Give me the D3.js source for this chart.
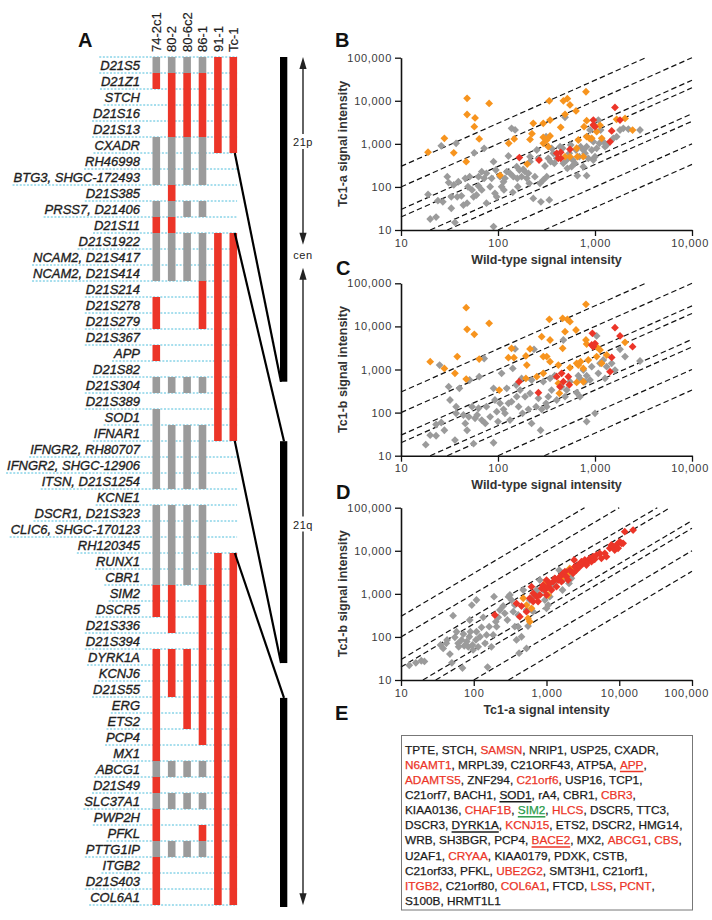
<!DOCTYPE html>
<html><head><meta charset="utf-8">
<script src="https://cdn.jsdelivr.net/npm/d3@7"></script>
<style>
body{margin:0;background:#fff}
svg text{font-family:"Liberation Sans",Arial,Helvetica,sans-serif}
</style>
</head><body>
<svg id="c" width="712" height="920"></svg>
<script>
// ---------------- DATA ----------------
const markers = ["D21S5","D21Z1","STCH","D21S16","D21S13","CXADR","RH46998","BTG3, SHGC-172493","D21S385","PRSS7, D21406","D21S11","D21S1922","NCAM2, D21S417","NCAM2, D21S414","D21S214","D21S278","D21S279","D21S367","APP","D21S82","D21S304","D21S389","SOD1","IFNAR1","IFNGR2, RH80707","IFNGR2, SHGC-12906","ITSN, D21S1254","KCNE1","DSCR1, D21S323","CLIC6, SHGC-170123","RH120345","RUNX1","CBR1","SIM2","DSCR5","D21S336","D21S394","DYRK1A","KCNJ6","D21S55","ERG","ETS2","PCP4","MX1","ABCG1","D21S49","SLC37A1","PWP2H","PFKL","PTTG1IP","ITGB2","D21S403","COL6A1"];
const strains = ["74-2c1","80-2","80-6c2","86-1","91-1","Tc-1"];
// R = present (red), G = grey, - = none ; one character per marker
const strainStates = [
  "GR---GGG-G"+"RGGG-RR-R-"+"G-GGGGG-GG"+"GGGRR--RRR"+"RRRRGRGRRG"+"RRR",
  "GRRRRGGGRG"+"RGGG------"+"G--GGGG-GG"+"GGGRRR-RRR"+"----G-G--G"+"---",
  "GRRRRGGG-G"+"-GGG------"+"G--GGGG-GG"+"GGG----RRR"+"RR--G-G--G"+"---",
  "GRRRRGGG-G"+"-GGGRRR---"+"G--GGGG-GG"+"GGGRRRRRRR"+"RRR-G-G-RG"+"---",
  "RRRRRR----"+"-RRRRRRRRR"+"RRRR------"+"-RRRRRRRRR"+"RRRRRRRRRR"+"RRR",
  "RRRRRR----"+"-RRRRRRRRR"+"RRRR------"+"-RRRRRRRRR"+"RRRRRRRRRR"+"RRR"
];
// chromosome 21 map (0 = pter, 100 = qter)
const chromSegments = [[0,38.2],[45.2,71.3],[75.4,100]];
const breakLinks = [{row:6,pos:38.2,end:true},{row:11,pos:45.2,end:false},{row:24,pos:71.3,end:true},{row:31,pos:75.4,end:false}];
const armArrows = [[0,22.1],[24.8,99.8]];
const armLabels = [["21p",10],["cen",23.3],["21q",55]];

const foldRatios = [30,10,3,2,1/2,1/3,1/10,1/30];
const ticks4 = [10,100,1000,10000];
const ticks5 = [10,100,1000,10000,100000];

const bGray = [[19,67],[20,18],[23,20],[24,48],[27,45],[26,900],[33,32],[36,15],[37,1030],[30,173],[31,126],[35,111],[39,132],[33,59],[38,59],[42,62],[44,38],[46,158],[48,42],[51,173],[49,101],[54,85],[56,59],[57,620],[60,65],[63,173],[63,105],[68,226],[68,85],[72,787],[72,158],[76,207],[76,42],[83,101],[86,158],[90,385],[90,12],[93,71],[95,247],[97,59],[105,173],[109,101],[114,132],[115,85],[118,158],[123,226],[128,522],[133,207],[138,2290],[142,75],[144,173],[150,2100],[156,295],[158,158],[160,101],[166,247],[175,173],[182,256],[190,226],[198,158],[206,207],[210,121],[214,504],[214,385],[231,54],[240,173],[251,719],[261,461],[271,121],[277,45],[293,145],[305,306],[313,1466],[318,173],[330,461],[338,50],[349,385],[357,787],[372,602],[381,353],[403,461],[436,859],[464,787],[472,353],[491,4121],[510,422],[519,270],[543,602],[561,940],[589,422],[622,353],[637,719],[658,182],[689,504],[711,859],[758,719],[789,602],[820,859],[853,461],[888,2094],[925,719],[961,1122],[1000,504],[1040,787],[1082,3573],[1109,1028],[1143,2094],[1218,1122],[1268,859],[1318,940],[1545,1342],[1671,1466],[1811,2094],[1959,2290],[2207,2208],[2910,2094],[820,182],[961,422],[758,295],[574,295]];
const bOrange = [[19,640],[28,1340],[35,620],[48,11400],[48,4800],[47,385],[58,4000],[57,2500],[64,1300],[81,8700],[105,186],[129,1030],[147,1300],[200,340],[214,1270],[224,1720],[231,2990],[293,2990],[293,1420],[293,1030],[338,10000],[344,3570],[344,1520],[318,1230],[330,860],[443,2420],[472,10000],[519,11200],[552,8000],[491,4840],[637,5800],[807,16200],[771,2500],[491,504],[552,504],[658,504],[758,504],[647,790],[673,1230],[820,1466],[875,1342],[925,1342],[1040,1920],[1127,2690],[1172,1342],[820,3450],[1670,3700],[2040,3900],[2440,2090]];
const bRed = [[166,480],[265,420],[403,602],[419,461],[443,635],[552,745],[443,461],[961,2740],[961,3573],[1000,2500],[1607,7000],[1811,3573],[1486,2000],[1429,1120]];

const cGray = [[18,18],[20,30],[23,29],[25,1270],[26,59],[23,53],[28,39],[31,400],[32,196],[36,23],[37,96],[37,137],[40,366],[44,88],[46,56],[48,39],[50,80],[51,570],[54,137],[56,19],[58,74],[61,88],[63,126],[64,680],[68,67],[72,1800],[74,56],[76,137],[83,80],[90,20],[90,366],[93,196],[97,105],[100,62],[105,164],[109,815],[114,119],[118,96],[123,366],[128,164],[133,67],[138,179],[142,1060],[150,3000],[154,437],[156,234],[163,137],[169,334],[175,620],[179,96],[190,234],[206,119],[214,280],[222,570],[222,56],[235,2940],[247,137],[261,214],[275,39],[282,119],[293,522],[313,164],[318,137],[330,234],[344,620],[357,334],[384,720],[403,196],[453,400],[472,4840],[491,234],[510,334],[552,522],[647,290],[673,720],[700,620],[758,970],[789,520],[820,720],[888,570],[925,1160],[820,62],[1000,96],[1040,6000],[1082,815],[1127,1390],[1218,1660],[1268,620],[1318,1160],[1486,1390],[1607,970],[1811,2940],[2040,1990],[2910,1575],[700,234]];
const cOrange = [[20,1520],[28,1060],[36,815],[38,1990],[47,27200],[48,8560],[47,600],[57,6550],[64,1750],[81,11800],[103,334],[128,1880],[146,1880],[138,3100],[194,2060],[214,3000],[198,1270],[194,620],[282,5780],[293,1990],[318,1990],[344,1520],[338,14600],[344,4840],[251,680],[293,815],[419,1270],[419,477],[429,280],[464,15400],[519,14600],[552,12900],[491,7550],[637,8260],[464,3100],[807,32600],[807,4840],[673,1270],[711,1520],[758,1060],[853,1660],[1040,1990],[1127,2840],[1172,1390],[1040,3390],[1318,2170],[552,1100],[647,1390],[758,520],[647,500],[2040,4270],[820,3900]];
const cRed = [[165,522],[261,290],[403,680],[453,815],[472,522],[531,680],[436,400],[543,440],[940,6900],[961,3390],[925,3700],[1000,4000],[1607,9350],[1811,6000],[2440,3390],[1486,1910],[1429,890]];

const dGray = [[13,22],[16,25],[19,28],[21,27],[35,65],[38,54],[42,71],[43,85],[47,40],[50,25],[52,311],[55,98],[58,132],[61,71],[62,59],[68,85],[70,19],[72,117],[74,62],[80,78],[84,59],[87,101],[90,132],[94,550],[96,65],[98,50],[107,85],[109,132],[115,59],[122,101],[128,167],[135,285],[143,71],[150,111],[155,20],[163,173],[175,59],[185,111],[190,860],[201,226],[206,173],[217,285],[229,422],[254,522],[267,353],[290,247],[314,940],[330,720],[349,385],[367,550],[387,85],[408,323],[420,42],[453,101],[531,54],[557,179],[531,422],[590,720],[656,860],[656,385],[729,1230],[766,940],[809,2090],[900,1230],[950,720],[1055,550],[1111,860],[1256,1600],[1372,2090],[1490,3570],[1694,2090],[1790,2730],[2040,1750],[2090,2990],[2200,2290],[1660,1230],[1000,461],[479,1230],[300,860],[367,173],[408,173],[88,247],[109,720]];
const dOrange = [[479,790],[531,550],[557,270],[590,226],[622,461],[1000,1920],[1055,940],[1980,2990],[2090,3900],[2200,3270],[1694,2500]];
const dRed = [[195,323],[387,600],[453,520],[430,295],[531,385],[590,790],[622,1470],[656,1030],[729,860],[766,660],[809,940],[854,1340],[900,1600],[950,1230],[1000,2090],[1055,1470],[1111,1750],[1170,1230],[1235,1920],[1300,2290],[1372,1470],[1445,2090],[1524,2500],[1606,1920],[1694,2990],[1790,3270],[1883,2500],[1980,2090],[2091,3570],[2323,2990],[2400,6100],[2450,4270],[2580,3570],[2720,4670],[2870,4270],[3020,5580],[3186,5100],[3360,6100],[3540,4670],[3730,5580],[3940,6670],[4150,5580],[4375,7290],[4600,6320],[4850,7960],[5400,8710],[5690,6670],[6330,8710],[6670,7290],[7410,11400],[7810,13600],[8220,12600],[8670,10400],[9140,13600],[9640,11400],[10160,16250],[10710,14900],[11300,14900],[11900,27700],[15500,30300],[656,660],[1000,940]];

const geneLines = [
 [["TPTE","k"],["STCH","k"],["SAMSN","r"],["NRIP1","k"],["USP25","k"],["CXADR","k"]],
 [["N6AMT1","r"],["MRPL39","k"],["C21ORF43","k"],["ATP5A","k"],["APP","ru"]],
 [["ADAMTS5","r"],["ZNF294","k"],["C21orf6","r"],["USP16","k"],["TCP1","k"]],
 [["C21orf7","k"],["BACH1","k"],["SOD1","ku"],["rA4","k"],["CBR1","k"],["CBR3","r"]],
 [["KIAA0136","k"],["CHAF1B","r"],["SIM2","gu"],["HLCS","r"],["DSCR5","k"],["TTC3","k"]],
 [["DSCR3","k"],["DYRK1A","ku"],["KCNJ15","r"],["ETS2","k"],["DSCR2","k"],["HMG14","k"]],
 [["WRB","k"],["SH3BGR","k"],["PCP4","k"],["BACE2","ru"],["MX2","k"],["ABCG1","r"],["CBS","r"]],
 [["U2AF1","k"],["CRYAA","r"],["KIAA0179","k"],["PDXK","k"],["CSTB","k"]],
 [["C21orf33","k"],["PFKL","k"],["UBE2G2","r"],["SMT3H1","k"],["C21orf1","k"]],
 [["ITGB2","r"],["C21orf80","k"],["COL6A1","r"],["FTCD","k"],["LSS","r"],["PCNT","r"]],
 [["S100B","k"],["HRMT1L1","k"]]
];

// ---------------- STYLE ----------------
const RED = "#ec3528", GREY = "#9b9b9b", ORANGE = "#f7941e", GREEN = "#2a9a4a";
const svg = d3.select("#c");

function panelLabel(t, x, y){
  svg.append("text").attr("x",x).attr("y",y).attr("font-size",20).attr("font-weight","bold").attr("fill","#111").text(t);
}

// ---------------- PANEL A ----------------
panelLabel("A", 78, 47);
const rowY = d3.scaleLinear().domain([0, markers.length]).range([57, 905]);
const colX = d3.scalePoint().domain(strains).range([156.3, 233.3]);
const barW = 7.6;
const gLines = svg.append("g");
const gLab = svg.append("g");
const labs = gLab.selectAll("text").data(markers).join("text")
  .attr("x",140).attr("y",(d,i)=>rowY(i+1)-3.2)
  .attr("text-anchor","end").attr("font-style","italic").attr("font-size",13)
  .attr("fill","#1e1e1e").attr("stroke","#1e1e1e").attr("stroke-width",0.35).text(d=>d);
const lefts = labs.nodes().map(n=>n.getBBox().x);
const lineRight = colX("Tc-1") + barW/2;
for(let i=0;i<=markers.length;i++){
  const lx = lefts[Math.max(0,i-1)] - 1;
  gLines.append("line").attr("x1",lx).attr("x2",lineRight)
    .attr("y1",rowY(i)).attr("y2",rowY(i))
    .attr("stroke","#4fbedc").attr("stroke-width",1).attr("stroke-dasharray","2,1.6");
}
// column headers
svg.append("g").selectAll("text").data(strains).join("text")
  .attr("transform",d=>`translate(${colX(d)+4.6},52) rotate(-90)`)
  .attr("font-size",13).attr("fill","#1e1e1e").attr("stroke","#1e1e1e").attr("stroke-width",0.2).text(d=>d);
// bars
function runs(s){ const out=[]; let i=0; while(i<s.length){ const c=s[i]; let j=i; while(j<s.length&&s[j]===c) j++; if(c!=='-') out.push({c,start:i,end:j}); i=j;} return out; }
const gBars = svg.append("g");
strains.forEach((s,k)=>{
  runs(strainStates[k]).forEach(r=>{
    gBars.append("rect").attr("x",colX(s)-barW/2).attr("width",barW)
      .attr("y",rowY(r.start)).attr("height",rowY(r.end)-rowY(r.start))
      .attr("fill", r.c==='R'?RED:GREY);
  });
});
// chromosome
const chromY = d3.scaleLinear().domain([0,100]).range([57,907]);
const chromX = 280, chromW = 7.3;
svg.append("g").selectAll("rect").data(chromSegments).join("rect")
  .attr("x",chromX).attr("width",chromW).attr("y",d=>chromY(d[0])).attr("height",d=>chromY(d[1])-chromY(d[0])).attr("fill","#000");
svg.append("g").selectAll("line").data(breakLinks).join("line")
  .attr("x1",colX("Tc-1")+1.5).attr("y1",d=>rowY(d.row))
  .attr("x2",d=>d.end?chromX+1:chromX+4).attr("y2",d=>chromY(d.pos))
  .attr("stroke","#000").attr("stroke-width",2.2);
// arm arrows
const ax = 303;
const gArm = svg.append("g");
armArrows.forEach(([a,b])=>{
  const y0 = chromY(a), y1 = chromY(b);
  gArm.append("line").attr("x1",ax).attr("x2",ax).attr("y1",y0+8).attr("y2",y1-8).attr("stroke","#222").attr("stroke-width",1.4);
  gArm.append("path").attr("d",`M${ax},${y0} L${ax-3.6},${y0+12} L${ax+3.6},${y0+12} Z`).attr("fill","#222");
  gArm.append("path").attr("d",`M${ax},${y1} L${ax-3.6},${y1-12} L${ax+3.6},${y1-12} Z`).attr("fill","#222");
});
armLabels.forEach(([t,p])=>{
  const y = chromY(p);
  if(t!=="cen") gArm.append("rect").attr("x",ax-11).attr("y",y-8).attr("width",22).attr("height",15).attr("fill","#fff");
  gArm.append("text").attr("x",ax).attr("y",y+4).attr("text-anchor","middle").attr("font-size",11).attr("letter-spacing",0.6).attr("fill","#222").text(t);
});

// ---------------- SCATTERS ----------------
const diamond = r => `M0,${-r}L${r},0L0,${r}L${-r},0Z`;
function scatter(o){
  const g = svg.append("g");
  const x = d3.scaleLog().domain(o.xDom).range([401,692]);
  const y = d3.scaleLog().domain([10,100000]).range([o.y0,o.y1]);
  foldRatios.forEach(k=>{
    const xa = Math.max(o.xDom[0], 10/k), xb = Math.min(o.xDom[1], 100000/k);
    if(xa<xb) g.append("line").attr("x1",x(xa)).attr("y1",y(xa*k)).attr("x2",x(xb)).attr("y2",y(xb*k))
      .attr("stroke","#111").attr("stroke-width",1.2).attr("stroke-dasharray","5.5,3.2");
  });
  [[o.gray,GREY],[o.orange,ORANGE],[o.red,RED]].forEach(([data,col])=>{
    g.append("g").selectAll("path").data(data).join("path")
      .attr("transform",d=>`translate(${x(d[0])},${y(d[1])})`).attr("d",diamond(3.9)).attr("fill",col);
  });
  const fmt = d3.format(",");
  const ya = g.append("g").attr("transform","translate(401,0)")
    .call(d3.axisLeft(y).tickValues(ticks5).tickFormat(fmt).tickSize(6).tickSizeOuter(0));
  const xa = g.append("g").attr("transform",`translate(0,${o.y0})`)
    .call(d3.axisBottom(x).tickValues(o.xTicks).tickFormat(fmt).tickSize(6).tickSizeOuter(0));
  [ya,xa].forEach(a=>{
    a.select(".domain").attr("stroke","#111").attr("stroke-width",1.6);
    a.selectAll(".tick line").attr("stroke","#111").attr("stroke-width",1.3);
    a.selectAll(".tick text").attr("font-size",11).attr("letter-spacing",0.7).attr("fill","#3a3a3a")
      .attr("font-family","'Liberation Sans',Arial,sans-serif");
  });
  // keep the right-most tick label inside the page
  xa.selectAll(".tick text").each(function(){
    const b = this.getBBox(), m = this.getCTM();
    const right = m.e + b.x + b.width;
    if(right > 709) d3.select(this).attr("dx", 709-right);
  });
  g.append("text").attr("x",546.5).attr("y",o.y0+33.5).attr("text-anchor","middle")
    .attr("font-size",12.5).attr("font-weight","bold").attr("fill","#333").text(o.xTitle);
  g.append("text").attr("transform",`translate(347,${(o.y0+o.y1)/2}) rotate(-90)`).attr("text-anchor","middle")
    .attr("font-size",12.5).attr("font-weight","bold").attr("fill","#333").text(o.yTitle);
}
panelLabel("B", 335, 47);
scatter({xDom:[10,10000], xTicks:ticks4, y0:230, y1:57.7, gray:bGray, orange:bOrange, red:bRed, xTitle:"Wild-type signal intensity", yTitle:"Tc1-a signal intensity"});
panelLabel("C", 336, 275);
scatter({xDom:[10,10000], xTicks:ticks4, y0:455.7, y1:283.3, gray:cGray, orange:cOrange, red:cRed, xTitle:"Wild-type signal intensity", yTitle:"Tc1-b signal intensity"});
panelLabel("D", 336, 499);
scatter({xDom:[10,100000], xTicks:ticks5, y0:680, y1:507.7, gray:dGray, orange:dOrange, red:dRed, xTitle:"Tc1-a signal intensity", yTitle:"Tc1-b signal intensity"});

// ---------------- PANEL E ----------------
panelLabel("E", 335, 720);
svg.append("rect").attr("x",401.5).attr("y",735.5).attr("width",291).attr("height",174.5)
  .attr("fill","none").attr("stroke","#777").attr("stroke-width",1);
const gE = svg.append("g");
const colOf = s => s[0]==='r'?RED:(s[0]==='g'?GREEN:"#1a1a1a");
geneLines.forEach((line,li)=>{
  const by = 753.8 + li*15.1;
  let cx = 405;
  line.forEach(([name,st],wi)=>{
    const t = gE.append("text").attr("x",cx).attr("y",by).attr("font-size",11.8).attr("fill",colOf(st))
      .attr("stroke",colOf(st)).attr("stroke-width",0.25).text(name);
    const w = t.node().getComputedTextLength();
    if(st.endsWith("u")) gE.append("line").attr("x1",cx).attr("x2",cx+w).attr("y1",by+2.6).attr("y2",by+2.6).attr("stroke",colOf(st)).attr("stroke-width",1.5);
    cx += w;
    const last = (li===geneLines.length-1 && wi===line.length-1);
    if(!last){
      const sep = wi===line.length-1 ? "," : ", ";
      const c = gE.append("text").attr("x",cx).attr("y",by).attr("font-size",11.8).attr("fill","#1a1a1a")
        .attr("stroke","#1a1a1a").attr("stroke-width",0.25).style("white-space","pre").text(sep);
      cx += c.node().getComputedTextLength();
    }
  });
});
</script>
</body></html>
